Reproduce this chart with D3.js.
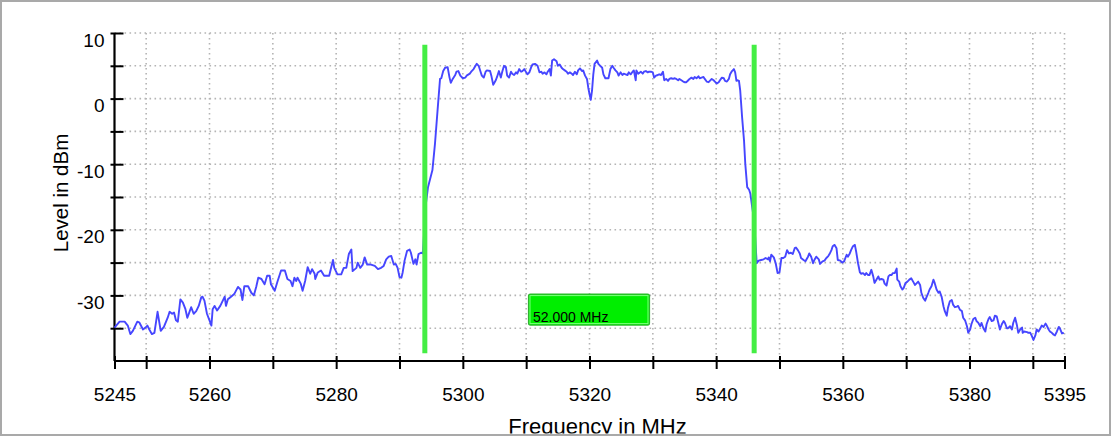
<!DOCTYPE html>
<html><head><meta charset="utf-8">
<script src="https://cdn.jsdelivr.net/npm/d3@7"></script>
<style>html,body{margin:0;padding:0;background:#fff;}svg{display:block;font-family:"Liberation Sans",Arial,sans-serif;}</style>
</head><body><svg id="chart" width="1113" height="438"></svg>
<script>
// ---- data ----
const xTicks = [5245,5250,5260,5270,5280,5290,5300,5310,5320,5330,5340,5350,5360,5370,5380,5390,5395];
const xTickLabels = [5245,5260,5280,5300,5320,5340,5360,5380,5395];
const yTicks = [10,5,0,-5,-10,-15,-20,-25,-30,-35];
const yTickLabels = [10,0,-10,-20,-30];
const markerFreqs = [5294,5346];
const markerLabel = "52.000 MHz";

const lowerFreq = [5245.0,5245.8,5246.6,5247.1,5247.5,5247.9,5248.6,5248.9,5249.5,5249.9,5250.2,5250.5,5250.9,5251.3,5251.8,5252.3,5252.8,5253.4,5253.7,5254.1,5254.4,5254.7,5255.0,5255.4,5255.8,5256.2,5256.5,5256.7,5257.1,5257.5,5257.9,5258.3,5258.7,5258.9,5259.2,5259.6,5260.0,5260.3,5260.5,5260.8,5261.2,5261.7,5262.1,5262.4,5262.6,5262.9,5263.4,5263.9,5264.5,5264.9,5265.2,5265.5,5266.1,5266.6,5267.0,5267.4,5267.7,5268.2,5268.7,5269.1,5269.5,5269.7,5270.3,5270.7,5271.3,5271.9,5272.3,5272.8,5273.1,5273.4,5273.7,5273.9,5274.4,5274.7,5275.1,5275.5,5275.9,5276.2,5276.6,5276.7,5277.1,5277.6,5278.1,5278.9,5279.5,5279.7,5280.2,5280.8,5281.2,5281.6,5282.0,5282.4,5282.6,5283.2,5283.4,5283.8,5284.2,5284.5,5284.9,5285.5,5286.1,5286.6,5287.1,5287.5,5287.9,5288.3,5288.7,5289.1,5289.4,5289.7,5290.0,5290.3,5290.5,5290.8,5291.2,5291.6,5291.8,5292.2,5292.5,5292.7,5293.0,5293.4,5293.7];
const lowerLevel = [-34.9,-34.0,-34.0,-34.6,-35.9,-35.4,-34.0,-34.1,-35.2,-34.9,-34.6,-35.2,-35.9,-35.7,-32.5,-35.4,-34.8,-33.4,-32.5,-32.8,-32.6,-33.8,-34.0,-30.6,-31.1,-32.1,-33.4,-32.9,-31.8,-32.8,-32.4,-31.6,-30.3,-30.2,-30.8,-32.8,-33.8,-34.6,-32.1,-31.6,-32.3,-31.6,-30.8,-30.2,-31.6,-30.6,-30.2,-29.8,-28.7,-29.1,-30.7,-28.6,-28.6,-29.6,-30.0,-28.6,-27.3,-27.5,-28.3,-27.0,-27.0,-28.3,-29.3,-28.0,-26.2,-26.2,-27.5,-27.8,-28.6,-27.3,-27.8,-27.3,-28.2,-29.3,-27.8,-25.7,-26.7,-26.0,-26.7,-27.5,-26.5,-26.2,-27.0,-27.0,-24.6,-25.8,-26.8,-26.8,-25.8,-25.8,-23.7,-23.0,-26.3,-25.8,-25.0,-25.8,-25.3,-24.2,-25.3,-25.3,-25.5,-26.0,-25.8,-25.5,-24.5,-24.1,-24.0,-25.3,-25.2,-25.8,-27.2,-27.3,-26.5,-24.7,-23.2,-23.0,-23.5,-25.2,-24.5,-25.3,-23.7,-23.5,-23.6];

const passFreq = [5294.1,5294.5,5295.2,5295.6,5296.0,5296.4,5296.6,5296.9,5297.2,5297.6,5297.9,5298.1,5298.4,5298.8,5299.0,5299.3,5299.6,5300.0,5300.4,5300.6,5301.1,5301.4,5301.7,5302.0,5302.2,5302.5,5302.8,5303.0,5303.3,5303.6,5303.8,5304.3,5304.5,5304.8,5305.2,5305.4,5305.7,5306.0,5306.2,5306.5,5306.8,5307.0,5307.3,5307.6,5307.8,5308.1,5308.4,5308.6,5308.9,5309.2,5309.4,5309.7,5310.0,5310.2,5310.5,5310.8,5311.0,5311.4,5311.8,5312.1,5312.4,5312.6,5312.9,5313.2,5313.4,5313.7,5313.9,5314.1,5314.4,5314.8,5315.0,5315.3,5315.6,5315.8,5316.1,5316.4,5316.6,5316.9,5317.2,5317.4,5317.7,5318.0,5318.2,5318.5,5318.8,5319.0,5319.3,5319.6,5319.8,5320.0,5320.2,5320.4,5320.6,5320.8,5321.2,5321.4,5321.7,5322.0,5322.2,5322.5,5322.8,5323.0,5323.3,5323.6,5323.8,5324.1,5324.4,5324.6,5324.9,5325.2,5325.4,5325.7,5326.0,5326.2,5326.5,5326.8,5327.0,5327.3,5327.4,5327.7,5328.1,5328.4,5328.6,5328.9,5329.2,5329.4,5329.7,5330.0,5330.2,5330.5,5330.8,5331.0,5331.3,5331.6,5331.8,5332.1,5332.4,5332.6,5332.9,5333.2,5333.4,5333.7,5334.0,5334.2,5334.5,5334.8,5335.0,5335.3,5335.6,5335.8,5336.1,5336.4,5336.6,5336.9,5337.2,5337.4,5337.7,5338.0,5338.2,5338.5,5338.8,5339.0,5339.3,5339.6,5339.8,5340.1,5340.4,5340.6,5340.9,5341.2,5341.4,5341.7,5342.0,5342.2,5342.5,5342.8,5343.0,5343.2,5343.4,5343.6,5343.8,5344.1,5344.4,5344.6,5344.9,5345.2,5345.4,5345.7,5346.0];
const passLevel = [-16.6,-13.5,-10.9,-6.9,-1.9,3.0,3.1,4.2,4.7,4.8,3.2,2.4,3.0,3.6,4.1,4.2,3.5,3.1,3.2,3.5,3.8,4.2,4.5,5.0,5.3,5.0,4.1,3.5,3.2,4.1,4.3,4.2,3.5,2.1,2.8,3.3,4.2,3.2,4.0,5.0,4.8,3.5,3.2,4.1,3.8,3.6,4.0,3.8,4.5,4.1,4.2,4.5,4.0,3.7,4.0,4.8,5.2,5.3,5.0,4.0,4.1,3.8,4.0,3.7,4.1,4.5,3.5,5.8,6.0,5.7,5.0,5.2,4.7,4.5,4.3,4.1,3.8,4.0,3.8,3.6,4.1,3.7,4.3,4.6,4.2,4.3,3.5,3.0,1.7,0.7,-0.2,1.2,3.7,5.3,5.8,5.3,5.0,4.7,3.7,3.1,3.1,3.1,4.5,5.0,4.7,4.3,4.0,3.5,4.0,3.6,3.8,3.7,3.6,4.0,3.7,4.1,4.3,2.8,4.3,3.8,4.1,3.8,4.1,4.2,4.0,4.1,4.1,4.0,3.2,3.5,3.6,3.7,3.6,4.1,2.8,3.0,2.7,3.0,3.1,3.0,3.1,3.0,2.8,3.0,2.8,2.6,2.5,2.5,2.8,3.0,3.2,3.0,3.3,3.1,3.4,3.1,3.2,3.3,3.0,2.6,2.5,2.7,3.0,2.8,2.6,2.3,2.5,2.8,3.2,3.1,2.7,2.6,3.0,3.7,4.2,4.5,4.0,2.7,2.8,2.7,1.2,-2.9,-6.4,-10.0,-13.5,-13.9,-14.5,-16.6,-18.6];

const upperFreq = [5346.4,5346.7,5347.1,5347.5,5347.8,5348.2,5348.3,5348.5,5348.7,5349.1,5349.4,5349.7,5350.0,5350.3,5350.6,5350.9,5351.2,5351.5,5351.8,5352.1,5352.4,5352.6,5352.9,5353.2,5353.4,5353.8,5354.1,5354.5,5354.7,5355.0,5355.3,5355.5,5355.8,5356.2,5356.4,5356.8,5357.1,5357.4,5357.7,5357.9,5358.2,5358.4,5358.7,5359.0,5359.2,5359.6,5359.9,5360.2,5360.6,5360.8,5361.1,5361.3,5361.6,5361.9,5362.1,5362.4,5362.7,5362.9,5363.2,5363.5,5363.7,5364.0,5364.2,5364.5,5364.8,5365.0,5365.3,5365.6,5365.8,5366.1,5366.4,5366.6,5366.9,5367.2,5367.4,5367.7,5367.9,5368.2,5368.5,5368.6,5368.9,5369.1,5369.4,5369.6,5369.9,5370.2,5370.5,5370.8,5371.1,5371.4,5371.6,5371.9,5372.2,5372.4,5372.7,5373.0,5373.2,5373.5,5373.7,5374.0,5374.3,5374.5,5374.8,5375.1,5375.3,5375.6,5375.9,5376.1,5376.4,5376.6,5376.9,5377.2,5377.4,5377.7,5378.0,5378.2,5378.5,5378.8,5379.0,5379.3,5379.6,5379.8,5380.1,5380.3,5380.6,5380.9,5381.1,5381.4,5381.7,5381.9,5382.2,5382.5,5382.7,5383.0,5383.2,5383.5,5383.8,5384.0,5384.3,5384.6,5384.8,5385.1,5385.4,5385.6,5385.9,5386.1,5386.4,5386.7,5386.9,5387.2,5387.5,5387.7,5388.0,5388.3,5388.4,5388.6,5389.1,5389.3,5389.6,5389.8,5390.1,5390.4,5390.6,5390.9,5391.2,5391.4,5391.7,5392.0,5392.2,5392.5,5392.7,5393.0,5393.3,5393.5,5393.8,5394.1,5394.3,5394.6,5394.9];
const upperLevel = [-25.1,-24.7,-24.6,-24.5,-24.3,-24.5,-24.2,-24.8,-23.8,-24.2,-25.1,-26.6,-26.5,-24.3,-24.3,-24.1,-23.1,-23.6,-23.5,-23.7,-22.8,-22.7,-23.1,-23.6,-24.3,-24.6,-24.8,-24.1,-23.6,-24.1,-25.1,-24.6,-24.1,-24.5,-25.2,-24.8,-24.7,-24.3,-24.0,-23.7,-23.1,-22.5,-22.3,-22.8,-24.6,-24.7,-25.0,-24.8,-23.8,-24.1,-23.6,-23.1,-22.5,-22.3,-23.3,-25.1,-26.5,-26.7,-26.6,-26.9,-26.6,-26.9,-26.9,-26.1,-27.1,-28.1,-27.6,-27.1,-27.6,-27.5,-27.6,-28.2,-28.5,-27.1,-26.9,-26.9,-26.6,-26.6,-25.9,-27.6,-27.9,-28.6,-29.1,-28.9,-28.1,-27.9,-27.6,-27.4,-27.9,-28.4,-28.2,-27.9,-28.4,-29.6,-30.4,-30.8,-30.3,-29.6,-29.1,-28.6,-27.6,-28.1,-29.1,-29.6,-29.4,-30.2,-31.7,-32.4,-33.1,-31.9,-30.9,-30.7,-31.4,-31.8,-31.7,-31.6,-32.2,-32.4,-33.4,-33.8,-34.7,-35.7,-35.2,-34.4,-33.6,-33.4,-33.9,-34.2,-34.7,-34.2,-35.0,-35.5,-34.4,-33.6,-33.3,-33.9,-33.8,-33.1,-33.2,-34.4,-35.2,-34.4,-33.9,-34.2,-35.0,-35.0,-34.7,-35.2,-34.2,-33.4,-34.6,-35.7,-35.2,-34.9,-35.7,-35.5,-35.6,-35.7,-35.7,-36.1,-36.8,-36.1,-35.2,-35.5,-35.0,-34.6,-34.8,-34.3,-34.6,-35.2,-35.5,-35.7,-36.0,-36.1,-35.5,-34.8,-35.1,-35.8,-35.7];

const freq = lowerFreq.concat(passFreq, upperFreq);
const level = lowerLevel.concat(passLevel, upperLevel);
const trace = freq.map((f,i)=>({f, v: level[i]}));

// ---- layout ----
const svg = d3.select("#chart");
const x = d3.scaleLinear().domain([5245,5395]).range([114.5,1064.5]);
const y = d3.scaleLinear().domain([-40,10]).range([361,33]);

// frame
svg.append("rect").attr("x",1).attr("y",1).attr("width",1109).attr("height",434)
  .attr("fill","#fff").attr("stroke","#a9a9a9").attr("stroke-width",2);

const gridStyle = s => s.attr("stroke","#b4b4b4").attr("stroke-width",1.6).attr("stroke-dasharray","1.6,3.4");
// horizontal grid
svg.append("g").selectAll("line").data(yTicks).join("line")
  .attr("x1",x(5245)).attr("x2",x(5395)).attr("y1",d=>y(d)).attr("y2",d=>y(d)).call(gridStyle);
// vertical grid
svg.append("g").selectAll("line").data(xTicks.filter(d=>d!==5245)).join("line")
  .attr("x1",d=>x(d)).attr("x2",d=>x(d)).attr("y1",y(10)).attr("y2",y(-40)).call(gridStyle);

// axes
const xAxis = d3.axisBottom(x).tickValues(xTicks).tickSize(8)
  .tickFormat(d => xTickLabels.includes(d) ? String(d) : "");
const gx = svg.append("g").attr("transform",`translate(0,${y(-40)})`).call(xAxis);
gx.select(".domain").attr("stroke","#000").attr("stroke-width",2.2).attr("d",`M${x(5245)},0H${x(5395)}`);
gx.selectAll(".tick line").attr("stroke","#000").attr("stroke-width",2).attr("y1",-5).attr("y2",8);
gx.selectAll(".tick text").attr("y",39.5).attr("dy",null).attr("fill","#000")
  .style("font-size","19px").style("font-family","'Liberation Sans',Arial,sans-serif");

const yAxis = d3.axisLeft(y).tickValues(yTicks).tickSize(4)
  .tickFormat(d => yTickLabels.includes(d) ? String(d) : "");
const gy = svg.append("g").attr("transform",`translate(${x(5245)},0)`).call(yAxis);
gy.select(".domain").attr("stroke","#000").attr("stroke-width",2.2).attr("d",`M0,${y(10)}V${y(-40)}`);
gy.selectAll(".tick line").attr("stroke","#000").attr("stroke-width",2).attr("x1",-4).attr("x2",9);
gy.selectAll(".tick text").attr("x",-10).attr("dy",null).attr("y",13).attr("fill","#000")
  .style("font-size","19px").style("font-family","'Liberation Sans',Arial,sans-serif");

// trace
const line = d3.line().x(d=>x(d.f)).y(d=>y(d.v));
svg.append("path").datum(trace).attr("d",line).attr("fill","none")
  .attr("stroke","#4646ff").attr("stroke-width",1.9).attr("stroke-linejoin","round");

// markers
svg.append("g").selectAll("line").data(markerFreqs).join("line")
  .attr("x1",d=>x(d)).attr("x2",d=>x(d)).attr("y1",y(8.2)).attr("y2",y(-38.8))
  .attr("stroke","#44ee44").attr("stroke-width",5);

// marker span label
const mid = (markerFreqs[0]+markerFreqs[1])/2;
const bx = x(mid) - 61, by = y(-29.8);
svg.append("rect").attr("x",bx).attr("y",by).attr("width",121).attr("height",31).attr("rx",2)
  .attr("fill","#00ee00").attr("stroke","#2fb52f").attr("stroke-width",1.2);
svg.append("rect").attr("x",bx+1.5).attr("y",by+1.5).attr("width",118).attr("height",28)
  .attr("fill","none").attr("stroke","#7dff7d").attr("stroke-width",1);
svg.append("text").attr("x",bx+4.5).attr("y",by+27.5).text(markerLabel)
  .style("font-size","14px").attr("fill","#000");

// titles
svg.append("text").attr("transform",`translate(68,193) rotate(-90)`).attr("text-anchor","middle")
  .style("font-size","20.5px").attr("fill","#000").text("Level in dBm");
svg.append("clipPath").attr("id","clipB").append("rect").attr("x",0).attr("y",0).attr("width",1113).attr("height",433.5);
svg.append("text").attr("clip-path","url(#clipB)").attr("x",597.5).attr("y",434).attr("text-anchor","middle")
  .style("font-size","22px").attr("fill","#000").text("Frequency in MHz");
// redraw bottom border over clipped title
svg.append("line").attr("x1",0).attr("x2",1111).attr("y1",435).attr("y2",435).attr("stroke","#a9a9a9").attr("stroke-width",2);
</script></body></html>
